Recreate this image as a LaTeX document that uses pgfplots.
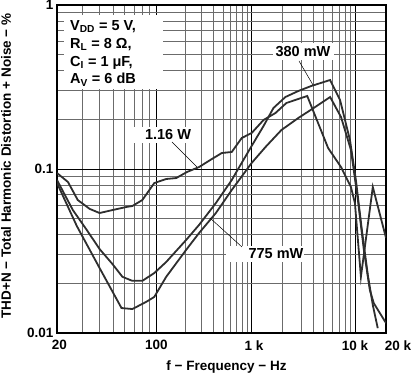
\documentclass[border=0pt]{standalone}
\usepackage{pgfplots}
\pgfplotsset{compat=1.18}
\usepackage{fontspec}
\setmainfont{Liberation Sans}
\pgfplotstableread{
f v
20 0.0945
23.9 0.0833
28.0 0.0647
34.0 0.0571
39.9 0.0539
49.2 0.0562
61.7 0.0587
67.9 0.0595
79.8 0.0647
96.8 0.0821
127 0.0869
162 0.0881
210 0.0959
281 0.1028
383 0.1151
487 0.1252
619 0.1270
787 0.1545
1000 0.1657
1304 0.1990
1701 0.2195
2170 0.2526
2830 0.2672
3455 0.2787
5501 0.1343
7336 0.1028
9153 0.0777
10000 0.0620
11430 0.0220
14900 0.0777
20000 0.0380
}\dataA
\pgfplotstableread{
f v
20 0.0857
25.86 0.0562
32.4 0.0425
39.9 0.0325
49.2 0.0263
57.8 0.0220
67.9 0.0208
79.8 0.0208
96.8 0.0232
127 0.0271
205.4 0.0369
281 0.0456
421.7 0.0620
619 0.0857
732 0.1014
1000 0.1381
1304 0.1829
1627 0.2355
2123 0.2748
2830 0.2989
3776 0.3207
5754 0.3489
7178 0.2634
8958 0.1502
10223 0.0857
11676 0.0425
13335 0.0226
14900 0.0148
16640 0.0107
}\dataB
\pgfplotstableread{
f v
20 0.0821
27.58 0.0449
39.9 0.0249
56.9 0.0142
67.9 0.0140
85.1 0.0155
96.8 0.0166
127 0.0220
205.4 0.0321
281 0.0407
421.7 0.0539
619 0.0745
1000 0.1088
1363 0.1362
1943 0.1729
2830 0.2046
4125 0.2388
5754 0.2748
7336 0.2075
9153 0.1306
10686 0.0647
12204 0.0321
13939 0.0183
15230 0.0152
20000 0.0115
}\dataC
\begin{document}
\begin{tikzpicture}[font=\fontsize{13.5bp}{16bp}\selectfont\bfseries]
\begin{axis}[
  scale only axis,
  width=329bp, height=328bp,
  x coord trafo/.code={%
    \begingroup
    \pgfkeys{/pgf/fpu=true,/pgf/fpu/output format=fixed}%
    \pgfmathparse{ln(#1)/2.302585093}%
    \let\lf\pgfmathresult
    \ifdim\lf pt<2pt
      \pgfmathparse{2-(2-\lf)*1.4896}%
    \else\ifdim\lf pt<3pt
      \pgfmathparse{\lf}%
    \else
      \pgfmathparse{3+(\lf-3)*1.0833}%
    \fi\fi
    \xdef\thdtrafores{\pgfmathresult}%
    \endgroup
    \let\pgfmathresult\thdtrafores
  },
  xmin=20, xmax=20000,
  ymode=log, ymin=0.01, ymax=1,
  xtick={20,100,1000,10000,20000},
  xticklabels={\hspace*{5bp}20,100,\hspace*{5bp}1 k,10 k,\hspace*{24bp}20 k},
  minor xtick={30,40,50,60,70,80,90,200,300,400,500,600,700,800,900,2000,3000,4000,5000,6000,7000,8000,9000},
  ytick={0.01,0.1,1}, yticklabels={0.01,0.1,1},
  minor ytick={0.02,0.03,0.04,0.05,0.06,0.07,0.08,0.09,0.2,0.3,0.4,0.5,0.6,0.7,0.8,0.9},
  /pgf/number format/assume math mode=true,
  grid=both,
  major grid style={black, line width=0.8bp},
  minor grid style={black!58, line width=0.75bp},
  major tick length=0pt, minor tick length=0pt,
  axis line style={line width=1.6bp},
  xticklabel style={yshift=-4bp},
  xlabel={f − Frequency − Hz},
  ylabel={THD+N − Total Harmonic Distortion + Noise − \%},
  every axis x label/.style={at={(axis description cs:0.5,0)}, anchor=center, yshift=-34bp, xshift=5bp},
  every axis y label/.style={at={(axis description cs:0,0.5)}, xshift=-51bp, yshift=3bp, rotate=90, anchor=center},
  clip=true,
]
\addplot[black!82, line width=1.8bp, no marks] table[x=f,y=v] {\dataA};
\addplot[black!82, line width=1.8bp, no marks] table[x=f,y=v] {\dataB};
\addplot[black!82, line width=1.8bp, no marks] table[x=f,y=v] {\dataC};
\coordinate (TL) at (rel axis cs:0,1);
\end{axis}
\begin{scope}[shift={(TL)}, x=1bp, y=-1bp, shift={(-57,-5)}, font=\fontsize{14.5bp}{17bp}\selectfont\bfseries]
  \fill[white] (64,15) rectangle (163,89);
  \node[anchor=base west, inner sep=0pt] at (70,30.5) {V\textsubscript{DD} = 5 V,};
  \node[anchor=base west, inner sep=0pt] at (70,48.5) {R\textsubscript{L} = 8 Ω,};
  \node[anchor=base west, inner sep=0pt] at (70,66.5) {C\textsubscript{I} = 1 μF,};
  \node[anchor=base west, inner sep=0pt] at (70,84) {A\textsubscript{V} = 6 dB};
  \fill[white] (273,43) rectangle (334,60);
  \node at (303,52) {380 mW};
  \draw[black, line width=0.5bp] (299,61) -- (313,85);
  \fill[white] (127,127) rectangle (192,143);
  \node at (168,135) {1.16 W};
  \draw[black, line width=0.5bp] (172,142) -- (197,167);
  \fill[white] (226,246) rectangle (304,262);
  \node at (276,254) {775 mW};
  \draw[black, line width=0.5bp] (210,218) -- (242,247);
\end{scope}
\pgfresetboundingbox
\path[use as bounding box] ([shift={(-57bp,5bp)}]TL) rectangle ([shift={(354bp,-370bp)}]TL);
\end{tikzpicture}
\end{document}
